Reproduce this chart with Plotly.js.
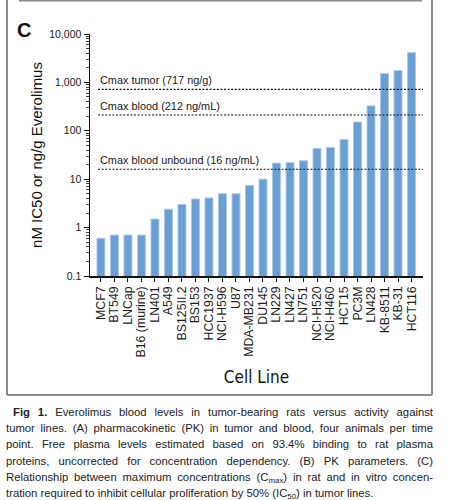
<!DOCTYPE html>
<html>
<head>
<meta charset="utf-8">
<script src="https://cdn.plot.ly/plotly-3.0.1.min.js"></script>
<style>
  html, body { margin:0; padding:0; background:#fff; overflow:hidden; }
  #wrap { position:relative; width:451px; height:500px; }
  #chart { position:absolute; left:0; top:0; width:451px; height:500px; }
  #caption { position:absolute; left:6px; top:404px; width:427px; font-family:"Liberation Sans", Arial, sans-serif; font-size:11.3px; line-height:16.2px; color:#222; }
  #caption div { text-align:justify; text-align-last:justify; white-space:normal; }
  #caption div.last { text-align-last:left; }
  #caption sub { font-size:0.7em; line-height:0; vertical-align:-0.3em; }
</style>
</head>
<body>
<div id="wrap">
  <div id="chart"></div>
  <div id="caption">
    <div style="padding-left:7px"><b>Fig 1.</b> Everolimus blood levels in tumor-bearing rats versus activity against</div>
    <div>tumor lines. (A) pharmacokinetic (PK) in tumor and blood, four animals per time</div>
    <div>point. Free plasma levels estimated based on 93.4% binding to rat plasma</div>
    <div>proteins, uncorrected for concentration dependency. (B) PK parameters. (C)</div>
    <div>Relationship between maximum concentrations (C<sub>max</sub>) in rat and in vitro concen-</div>
    <div class="last">tration required to inhibit cellular proliferation by 50% (IC<sub>50</sub>) in tumor lines.</div>
  </div>
</div>
<script>
// ---- data ----
var cellLines = ["MCF7","BT549","LNCap","B16 (murine)","LN401","A549","BS125II.2","BS153","HCC1937","NCI-H596","U87","MDA-MB231","DU145","LN229","LN427","LN751","NCI-H520","NCI-H460","HCT15","PC3M","LN428","KB-8511","KB-31","HCT116"];
var ic50Values = [0.6,0.7,0.7,0.7,1.5,2.4,3.0,3.9,4.1,5.0,5.0,7.4,10,21.5,22,24,43,45,66,152,327,1520,1750,4100];
var refValues = [717, 212, 16];
var refLabels = ["Cmax tumor (717 ng/g)", "Cmax blood (212 ng/mL)", "Cmax blood unbound (16 ng/mL)"];
var yTickVals = [0.1, 1, 10, 100, 1000, 10000];
var yTickText = ["0.1", "1", "10", "100", "1,000", "10,000"];

// ---- layout helpers (pixel -> paper) ----
var L = 90, R = 28, T = 34, B = 224, W = 451, H = 500;
var PW = W - L - R, PH = H - T - B;
function px(x) { return (x - L) / PW; }
function py(y) { return (H - B - y) / PH; }

var minorVals = [];
for (var d = -1; d < 4; d++) {
  for (var m = 2; m <= 9; m++) minorVals.push(m * Math.pow(10, d));
}

var FONT = '"Liberation Sans", Arial, sans-serif';
var ink = '#1a1a1a';

var traces = [{
  type: 'bar',
  x: cellLines,
  y: ic50Values,
  marker: { color: '#6a9fd4', line: { color: '#a9c8ea', width: 1 } },
  hoverinfo: 'x+y'
}];

refValues.forEach(function (v) {
  traces.push({
    type: 'scatter', mode: 'lines',
    x: [px(98), 1], y: [v, v],
    xaxis: 'x2', yaxis: 'y',
    line: { color: '#111', width: 1.1, dash: '2px,1.6px' },
    hoverinfo: 'skip'
  });
});

var annotations = refLabels.map(function (t, i) {
  return {
    text: t, xref: 'paper', yref: 'y',
    x: px(98), y: Math.log10(refValues[i]),
    xanchor: 'left', yanchor: 'bottom', yshift: 1,
    showarrow: false,
    font: { family: FONT, size: 10.9, color: ink }
  };
});
annotations.push({
  text: '<b>C</b>', xref: 'paper', yref: 'paper',
  x: px(24), y: py(30), xanchor: 'center', yanchor: 'middle',
  showarrow: false, font: { family: FONT, size: 20, color: '#111' }
});

var frameColor = '#8a8a8a';
var shapes = [
  { type: 'line', xref: 'paper', yref: 'paper', x0: px(7), x1: px(7), y0: py(0), y1: py(395), line: { color: frameColor, width: 2 } },
  { type: 'line', xref: 'paper', yref: 'paper', x0: px(432), x1: px(432), y0: py(0), y1: py(395), line: { color: frameColor, width: 2 } },
  { type: 'line', xref: 'paper', yref: 'paper', x0: px(7), x1: px(432), y0: py(395), y1: py(395), line: { color: frameColor, width: 2 } },
  { type: 'line', xref: 'paper', yref: 'paper', x0: px(19), x1: px(422), y0: py(0.8), y1: py(0.8), line: { color: frameColor, width: 1.6 } }
];

var layout = {
  width: W, height: H,
  margin: { l: L, r: R, t: T, b: B, pad: 0 },
  paper_bgcolor: '#fff', plot_bgcolor: '#fff',
  showlegend: false,
  bargap: 0.41,
  font: { family: FONT, color: ink },
  xaxis: {
    type: 'category', range: [-0.81, 23.85],
    tickmode: 'array', tickvals: cellLines, ticktext: cellLines,
    showline: true, linecolor: '#111', linewidth: 1.5,
    ticks: 'outside', ticklen: 4, tickcolor: '#111', tickwidth: 1,
    tickangle: -90, tickfont: { family: FONT, size: 12.3, color: ink },
    showgrid: false, zeroline: false, automargin: false,
    title: { text: 'Cell Line', standoff: 14,
             font: { family: '"Liberation Sans Narrow", "Arial Narrow", "DejaVu Sans Condensed", "Liberation Sans", Arial, sans-serif', size: 17, color: '#111' } }
  },
  xaxis2: { overlaying: 'x', anchor: 'y', range: [0, 1], visible: false },
  yaxis: {
    type: 'log', range: [-1, 4],
    tickmode: 'array', tickvals: yTickVals, ticktext: yTickText,
    showline: true, linecolor: '#111', linewidth: 1.5,
    ticks: 'outside', ticklen: 5, tickcolor: '#111', tickwidth: 1,
    tickfont: { family: FONT, size: 10.5, color: ink },
    minor: { tickmode: 'array', tickvals: minorVals, ticks: 'outside', ticklen: 3, tickcolor: '#111', tickwidth: 0.8 },
    showgrid: false, zeroline: false, automargin: false,
    title: { text: 'nM IC50 or ng/g Everolimus', standoff: 3,
             font: { family: FONT, size: 15, color: '#111' } }
  },
  annotations: annotations,
  shapes: shapes
};

Plotly.newPlot('chart', traces, layout, { displayModeBar: false, staticPlot: true });
</script>
</body>
</html>
